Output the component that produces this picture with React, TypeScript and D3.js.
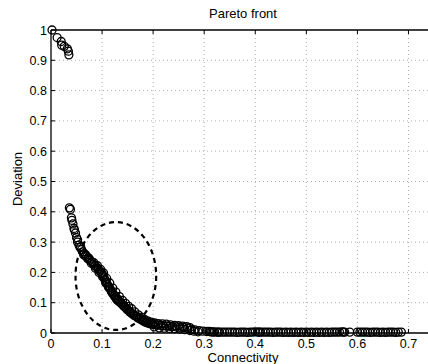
import React, { useEffect, useRef } from "react";
import * as d3 from "d3";

// points near deviation = 1
const topX = [0.002, 0.012, 0.02, 0.021, 0.026, 0.032, 0.034, 0.035];
const topY = [1.0, 0.975, 0.962, 0.95, 0.946, 0.938, 0.93, 0.918];

// main knee of the front
const frontX = [
  0.036, 0.038, 0.04, 0.041, 0.043, 0.045, 0.046, 0.048, 0.05, 0.052, 0.055, 0.057,
  0.06, 0.062, 0.065, 0.068, 0.07, 0.073, 0.076, 0.08, 0.083, 0.086, 0.089, 0.092,
  0.095, 0.098, 0.1, 0.102, 0.104, 0.106, 0.108, 0.11, 0.112, 0.114, 0.116, 0.118,
  0.12, 0.122, 0.124, 0.126, 0.128, 0.13, 0.133, 0.136, 0.139, 0.142, 0.145, 0.148,
  0.151, 0.154, 0.157, 0.16, 0.163, 0.166, 0.17, 0.174, 0.178, 0.182, 0.186, 0.19,
  0.195, 0.2, 0.205, 0.21, 0.215, 0.22, 0.226, 0.232, 0.238, 0.245, 0.252, 0.26,
  0.268, 0.275, 0.282, 0.29, 0.297, 0.305,
];
const frontY = [
  0.413, 0.408, 0.38, 0.372, 0.36, 0.345, 0.34, 0.33, 0.315, 0.308, 0.29, 0.282,
  0.275, 0.268, 0.262, 0.258, 0.252, 0.248, 0.24, 0.235, 0.228, 0.222, 0.218, 0.212,
  0.205, 0.2, 0.196, 0.19, 0.182, 0.175, 0.168, 0.162, 0.155, 0.15, 0.145, 0.138,
  0.132, 0.128, 0.122, 0.118, 0.112, 0.108, 0.104, 0.1, 0.095, 0.09, 0.085, 0.08,
  0.075, 0.07, 0.066, 0.062, 0.058, 0.055, 0.05, 0.046, 0.042, 0.038, 0.035, 0.032,
  0.03, 0.028, 0.027, 0.026, 0.025, 0.024, 0.023, 0.022, 0.021, 0.02, 0.019, 0.018,
  0.016, 0.012, 0.01, 0.008, 0.006, 0.005,
];

// neighbouring solutions that thicken the band
const bandX = [
  0.052, 0.058, 0.064, 0.067, 0.072, 0.075, 0.079, 0.084, 0.087, 0.091, 0.094, 0.097,
  0.101, 0.103, 0.107, 0.109, 0.113, 0.115, 0.119, 0.121, 0.125, 0.127, 0.131, 0.134,
  0.137, 0.14, 0.143, 0.146, 0.149, 0.152, 0.155, 0.158, 0.161, 0.164, 0.167, 0.171,
  0.173, 0.177, 0.179, 0.183, 0.185, 0.189, 0.192, 0.196, 0.198, 0.203, 0.21, 0.218,
  0.226, 0.234, 0.242, 0.25, 0.258, 0.266, 0.272,
  0.202, 0.212, 0.222, 0.232, 0.242, 0.252, 0.262, 0.272, 0.28, 0.288,
];
const bandY = [
  0.3, 0.285, 0.258, 0.255, 0.245, 0.245, 0.23, 0.232, 0.214, 0.222, 0.2, 0.21,
  0.186, 0.198, 0.166, 0.18, 0.15, 0.165, 0.136, 0.148, 0.124, 0.135, 0.112, 0.12,
  0.1, 0.108, 0.088, 0.098, 0.078, 0.088, 0.069, 0.08, 0.062, 0.07, 0.055, 0.06,
  0.049, 0.052, 0.044, 0.045, 0.039, 0.04, 0.034, 0.036, 0.03, 0.033, 0.031, 0.03,
  0.029, 0.027, 0.025, 0.024, 0.023, 0.021, 0.018,
  0.02, 0.017, 0.016, 0.015, 0.014, 0.013, 0.011, 0.008, 0.006, 0.004,
];

// near-zero deviation tail
const tailX = [
  0.31, 0.3125, 0.315, 0.3175, 0.32, 0.325, 0.3275, 0.33, 0.335, 0.34, 0.345, 0.35,
  0.355, 0.36, 0.365, 0.37, 0.375, 0.38, 0.385, 0.39, 0.395, 0.4, 0.405, 0.4075,
  0.41, 0.415, 0.42, 0.425, 0.43, 0.435, 0.44, 0.445, 0.45, 0.455, 0.46, 0.465,
  0.47, 0.475, 0.48, 0.485, 0.49, 0.495, 0.5, 0.505, 0.51, 0.515, 0.52, 0.525,
  0.53, 0.535, 0.54, 0.545, 0.55, 0.555, 0.56, 0.565, 0.57, 0.5725, 0.575, 0.585,
  0.6, 0.605, 0.61, 0.615, 0.62, 0.625, 0.63, 0.635, 0.64, 0.645, 0.65, 0.655,
  0.66, 0.665, 0.67, 0.675, 0.68, 0.686,
];
const tailY = [
  0.005, 0.004, 0.004, 0.003, 0.004, 0.003, 0.003, 0.003, 0.003, 0.003, 0.003, 0.003,
  0.003, 0.003, 0.002, 0.003, 0.003, 0.003, 0.002, 0.003, 0.003, 0.004, 0.003, 0.003,
  0.003, 0.003, 0.003, 0.003, 0.003, 0.002, 0.003, 0.003, 0.003, 0.002, 0.003, 0.002,
  0.003, 0.002, 0.003, 0.002, 0.003, 0.002, 0.003, 0.002, 0.003, 0.002, 0.003, 0.002,
  0.003, 0.002, 0.003, 0.002, 0.003, 0.003, 0.003, 0.003, 0.004, 0.003, 0.003, 0.003,
  0.003, 0.003, 0.003, 0.003, 0.003, 0.002, 0.003, 0.003, 0.003, 0.002, 0.003, 0.002,
  0.003, 0.003, 0.003, 0.002, 0.003, 0.003,
];

const xTicks = [0, 0.1, 0.2, 0.3, 0.4, 0.5, 0.6, 0.7];
const yTicks = [0, 0.1, 0.2, 0.3, 0.4, 0.5, 0.6, 0.7, 0.8, 0.9, 1];

// highlighted region (center and radii in data units)
const ellipseCenter = [0.127, 0.188];
const ellipseRadii = [0.079, 0.178];

const App = () => {
  const ref = useRef<SVGSVGElement>(null);

  useEffect(() => {
    const width = 428;
    const height = 364;
    const left = 51;
    const right = 434;
    const top = 30;
    const bottom = 333;
    const font = "'Liberation Sans', Arial, Helvetica, sans-serif";

    const x = d3.scaleLinear().domain([0, 0.75]).range([left, right]);
    const y = d3.scaleLinear().domain([0, 1]).range([bottom, top]);

    const svg = d3
      .select(ref.current)
      .attr("width", width)
      .attr("height", height)
      .style("background", "#fff");
    svg.selectAll("*").remove();

    // grid
    svg
      .append("g")
      .selectAll("line")
      .data(xTicks.slice(1))
      .enter()
      .append("line")
      .attr("x1", (d) => x(d))
      .attr("x2", (d) => x(d))
      .attr("y1", top)
      .attr("y2", bottom)
      .attr("stroke", "#999")
      .attr("stroke-width", 0.8)
      .attr("stroke-dasharray", "1,3");
    svg
      .append("g")
      .selectAll("line")
      .data(yTicks.slice(1, -1))
      .enter()
      .append("line")
      .attr("x1", left)
      .attr("x2", right)
      .attr("y1", (d) => y(d))
      .attr("y2", (d) => y(d))
      .attr("stroke", "#999")
      .attr("stroke-width", 0.8)
      .attr("stroke-dasharray", "1,3");

    // axes box
    const axes = svg.append("g").attr("stroke", "#000").attr("stroke-width", 1.3);
    axes.append("line").attr("x1", left).attr("x2", right).attr("y1", bottom).attr("y2", bottom);
    axes.append("line").attr("x1", left).attr("x2", right).attr("y1", top).attr("y2", top);
    axes.append("line").attr("x1", left).attr("x2", left).attr("y1", top).attr("y2", bottom);

    // ticks (inward)
    xTicks.forEach((t) => {
      axes.append("line").attr("x1", x(t)).attr("x2", x(t)).attr("y1", bottom).attr("y2", bottom - 4).attr("stroke-width", 1);
      axes.append("line").attr("x1", x(t)).attr("x2", x(t)).attr("y1", top).attr("y2", top + 4).attr("stroke-width", 1);
    });
    yTicks.forEach((t) => {
      axes.append("line").attr("x1", left).attr("x2", left + 4).attr("y1", y(t)).attr("y2", y(t)).attr("stroke-width", 1);
    });

    // tick labels
    svg
      .append("g")
      .selectAll("text")
      .data(xTicks)
      .enter()
      .append("text")
      .attr("x", (d) => x(d))
      .attr("y", 348)
      .attr("text-anchor", "middle")
      .attr("font-family", font)
      .attr("font-size", 12.5)
      .text((d) => String(d));
    svg
      .append("g")
      .selectAll("text")
      .data(yTicks)
      .enter()
      .append("text")
      .attr("x", 47)
      .attr("y", (d) => y(d) + 4.5)
      .attr("text-anchor", "end")
      .attr("font-family", font)
      .attr("font-size", 12.5)
      .text((d) => String(d));

    // labels
    svg
      .append("text")
      .attr("x", 243)
      .attr("y", 17.5)
      .attr("text-anchor", "middle")
      .attr("font-family", font)
      .attr("font-size", 13)
      .text("Pareto front");
    svg
      .append("text")
      .attr("x", 243)
      .attr("y", 362)
      .attr("text-anchor", "middle")
      .attr("font-family", font)
      .attr("font-size", 13)
      .text("Connectivity");
    svg
      .append("text")
      .attr("transform", `translate(22,179) rotate(-90)`)
      .attr("text-anchor", "middle")
      .attr("font-family", font)
      .attr("font-size", 13)
      .text("Deviation");

    // points
    const points = [
      ...topX.map((c, i) => [c, topY[i]]),
      ...frontX.map((c, i) => [c, frontY[i]]),
      ...bandX.map((c, i) => [c, bandY[i]]),
      ...tailX.map((c, i) => [c, tailY[i]]),
    ];
    svg
      .append("g")
      .selectAll("circle")
      .data(points)
      .enter()
      .append("circle")
      .attr("cx", (d) => x(d[0]))
      .attr("cy", (d) => y(d[1]))
      .attr("r", 4)
      .attr("fill", "none")
      .attr("stroke", "#000")
      .attr("stroke-width", 1.3);

    // dashed ellipse
    svg
      .append("ellipse")
      .attr("cx", x(ellipseCenter[0]))
      .attr("cy", y(ellipseCenter[1]))
      .attr("rx", x(ellipseRadii[0]) - x(0))
      .attr("ry", y(0) - y(ellipseRadii[1]))
      .attr("fill", "none")
      .attr("stroke", "#000")
      .attr("stroke-width", 2.2)
      .attr("stroke-dasharray", "5,4");
  }, []);

  return <svg ref={ref} style={{ position: "absolute", left: 0, top: 0 }} />;
};

export default App;
